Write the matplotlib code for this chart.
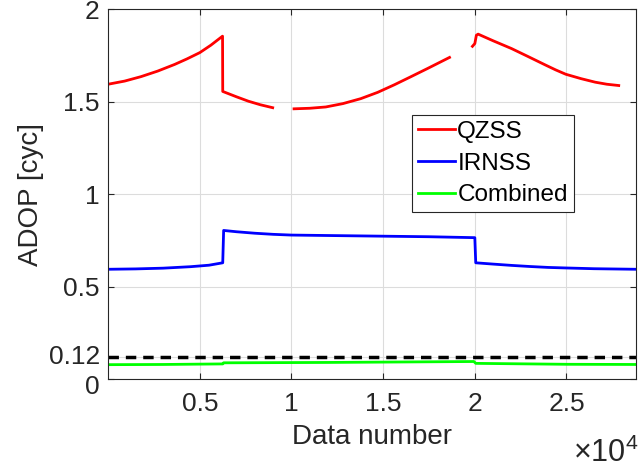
import matplotlib
matplotlib.use('Agg')
import matplotlib.pyplot as plt
import matplotlib.transforms as mtransforms
import numpy as np

plt.rcParams['font.family'] = ['Liberation Sans', 'DejaVu Sans']
plt.rcParams['mathtext.fontset'] = 'custom'
plt.rcParams['mathtext.rm'] = 'Liberation Sans'

# QZSS ADOP, gaps marked with nan
qzss_x = [1, 900, 1790, 2700, 3625, 4300, 5000, 5600, 6240,
          6250, 7000, 7655, 8300, 8975, np.nan,
          10140, 11000, 11870, 12800, 13780, 14700, 15610, 16500, 17440, 18620, np.nan,
          19870, 20000, 20085, 20180, 21000, 22000, 22900, 23830, 24400, 24960,
          25800, 26570, 27200, 27850]
qzss_y = [1.595, 1.612, 1.636, 1.666, 1.702, 1.732, 1.766, 1.806, 1.855,
          1.556, 1.527, 1.503, 1.484, 1.468, np.nan,
          1.462, 1.465, 1.472, 1.490, 1.517, 1.551, 1.592, 1.635, 1.681, 1.740, np.nan,
          1.800, 1.815, 1.860, 1.866, 1.830, 1.788, 1.745, 1.700, 1.673, 1.649,
          1.625, 1.606, 1.595, 1.588]

# IRNSS ADOP
irnss_x = [1, 1500, 3000, 4500, 5500, 6250,
           6300, 7000, 8000, 9000, 10000, 12500, 15000, 17500, 20000,
           20050, 21000, 22000, 23000, 24000, 25000, 26500, 28800]
irnss_y = [0.594, 0.596, 0.600, 0.608, 0.616, 0.629,
           0.804, 0.797, 0.789, 0.783, 0.779, 0.776, 0.773, 0.770, 0.765,
           0.629, 0.622, 0.615, 0.609, 0.604, 0.601, 0.597, 0.594]

# combined ADOP
comb_x = [1, 3000, 6250, 6300, 12000, 19950, 20050, 25000, 28800]
comb_y = [0.078, 0.079, 0.082, 0.088, 0.090, 0.095, 0.085, 0.080, 0.079]

threshold = 0.12
x_ticks = [5000, 10000, 15000, 20000, 25000]
x_tick_labels = ['0.5', '1', '1.5', '2', '2.5']
y_ticks = [0, 0.12, 0.5, 1, 1.5, 2]
y_tick_labels = ['0', '0.12', '0.5', '1', '1.5', '2']

fig = plt.figure(figsize=(6.4, 4.68), dpi=100)
ax = fig.add_axes([0.169, 0.19, 0.825, 0.79])

ax.plot(qzss_x, qzss_y, color='#ff0000', linewidth=2, label='QZSS')
ax.plot(irnss_x, irnss_y, color='#0000ff', linewidth=2, label='IRNSS')
ax.plot(comb_x, comb_y, color='#00ff00', linewidth=2, label='Combined')
ax.axhline(threshold, color='black', linewidth=2.5, linestyle=(0, (3, 2)))

ax.set_xlim(1, 28800)
ax.set_ylim(0, 2)
ax.set_xticks(x_ticks)
ax.set_xticklabels(x_tick_labels)
ax.set_yticks(y_ticks)
ax.set_yticklabels(y_tick_labels)

dark = (0.15, 0.15, 0.15)
ax.tick_params(direction='in', length=4, labelsize=19, colors=dark,
               top=True, right=True)
ax.tick_params(axis='x', pad=9)
ax.tick_params(axis='y', pad=6)

# spread the two crowded labels at the bottom of the y axis a little
ylabels = ax.get_yticklabels()
ylabels[0].set_transform(ylabels[0].get_transform() +
                         mtransforms.ScaledTranslation(0, -4 / 72, fig.dpi_scale_trans))
ylabels[1].set_transform(ylabels[1].get_transform() +
                         mtransforms.ScaledTranslation(0, 2 / 72, fig.dpi_scale_trans))

for s in ax.spines.values():
    s.set_color(dark)
    s.set_linewidth(0.8)
ax.grid(True, color='#dcdcdc', linewidth=0.8)
ax.set_axisbelow(True)

ax.set_xlabel('Data number', fontsize=20, color=dark, labelpad=6)
ax.set_ylabel('ADOP [cyc]', fontsize=20, color=dark, labelpad=3)
fig.text(0.997, 0.012, r'$\times10^{4}$', fontsize=22, color=dark, ha='right')

leg = ax.legend(loc='upper left', bbox_to_anchor=(0.576, 0.715), fontsize=17.5,
                fancybox=False, framealpha=1, edgecolor=dark, handlelength=1.5,
                handletextpad=0.1, borderpad=0.25, labelspacing=0.4,
                borderaxespad=0)
leg.get_frame().set_linewidth(0.8)

fig.savefig('out.png', dpi=100)
